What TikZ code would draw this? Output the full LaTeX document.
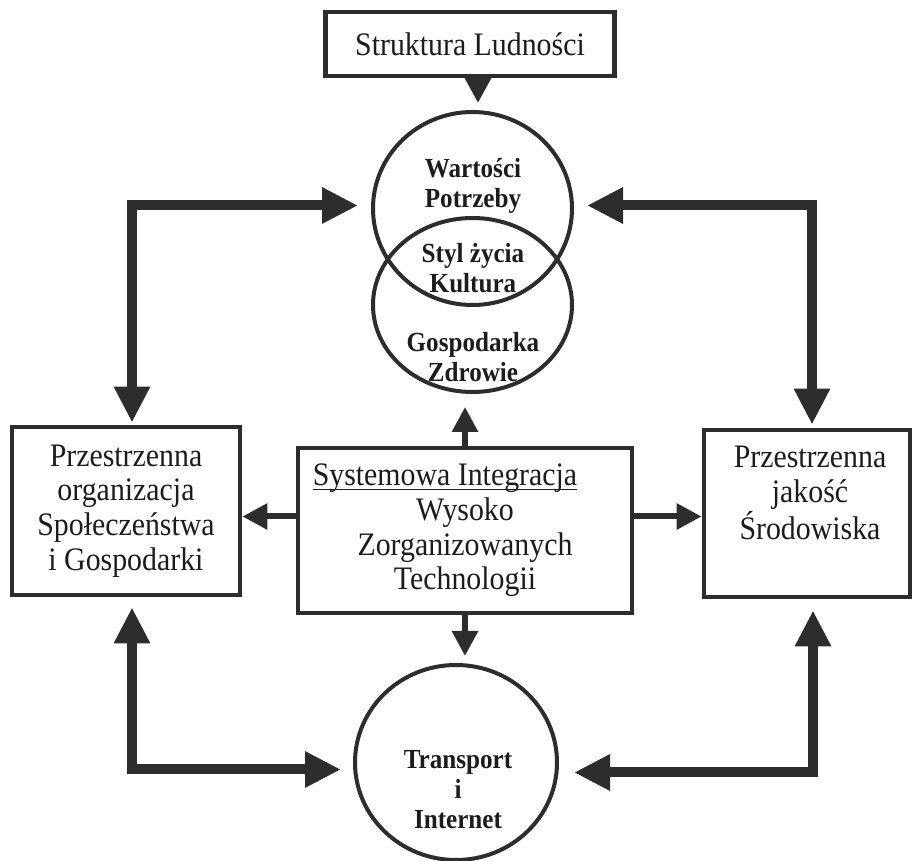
\documentclass[tikz,border=0pt]{standalone}
\usepackage{fontspec}
\setmainfont{Liberation Serif}[FakeStretch=0.91]
\usepackage{tikz}
\usetikzlibrary{shapes.geometric, arrows.meta, positioning, calc}
\definecolor{mydark}{RGB}{45,45,45}
\definecolor{mytext}{RGB}{28,28,28}
\newsavebox{\podkreslbox}
\newcommand{\podkresl}[1]{\sbox{\podkreslbox}{#1}\rlap{\rule[-2.2pt]{\wd\podkreslbox}{0.8pt}}\usebox{\podkreslbox}}
\tikzset{
  box/.style={rectangle, draw=mydark, line width=2.4pt, align=center, text=mytext, font=\fontsize{16.4}{17.3}\selectfont, inner sep=0pt},
  ring/.style={ellipse, draw=mydark, line width=2pt, inner sep=0pt},
  ringtext/.style={align=center, text=mytext, font=\fontsize{13.8}{15}\selectfont\bfseries},
  plaintext/.style={align=center, text=mytext, font=\fontsize{16.4}{17.3}\selectfont},
  bigarrow/.style={{Triangle[length=18pt, width=17pt]}-{Triangle[length=18pt, width=17pt]}, line width=5pt, color=mydark},
  midarrow/.style={-{Triangle[length=12.5pt, width=12.5pt]}, line width=3pt, color=mydark}
}

\begin{document}
\begin{tikzpicture}[x=0.5pt, y=-0.5pt]
  \useasboundingbox (0,0) rectangle (912,861);

  % Top box
  \node[box, minimum width=144.5pt, minimum height=32pt] (ludnosc) at (470,44) {Struktura Ludności};

  % Circles (top)
  \node[ring, minimum width=99.5pt, minimum height=96.5pt] (gora) at (472.5,208.5) {};
  \node[ring, minimum width=99.5pt, minimum height=87pt] (dol) at (472.5,305) {};
  \node[ringtext] (wartosci) at (473,186) {Wartości\\Potrzeby};
  \node[ringtext] (styl) at (473,268) {Styl życia\\Kultura};
  \node[ringtext] (gospodarka) at (473,357) {Gospodarka\\Zdrowie};

  % Middle row
  \node[box, minimum width=114pt, minimum height=84pt] (lewy) at (126,511) {Przestrzenna\\organizacja\\Społeczeństwa\\i Gospodarki};
  \node[box, minimum width=167pt, minimum height=82.5pt] (srodek) at (465,530.5) {\podkresl{Systemowa Integracja}\hspace*{20pt}\\Wysoko\\Zorganizowanych\\Technologii};
  \node[box, minimum width=103pt, minimum height=83.5pt] (prawy) at (807,513.5) {};
  \node[plaintext] (prawytxt) at (810,493) {Przestrzenna\\jakość\\Środowiska};

  % Circle (bottom)
  \node[ring, minimum width=101pt, minimum height=97.5pt] (transport) at (456,762.5) {};
  \node[ringtext] (transporttxt) at (458,790) {Transport\\i\\Internet};

  % Connectors
  \draw[midarrow, shorten >=3.5pt] ([xshift=4pt]ludnosc.south) -- ([xshift=4pt]ludnosc.south |- gora.north);
  \draw[bigarrow, shorten <=6.5pt, shorten >=1pt] ([yshift=1.5pt]gora.west) -| ([xshift=3pt]lewy.north);
  \draw[bigarrow, shorten <=6.5pt, shorten >=1.5pt] ([yshift=1.5pt]gora.east) -| ([xshift=2.5pt]prawy.north);
  \draw[bigarrow, shorten <=6pt, shorten >=5pt] ([yshift=-3.5pt]transport.west) -| ([xshift=3pt]lewy.south);
  \draw[bigarrow, shorten <=7.5pt, shorten >=5.5pt] ([yshift=-5pt]transport.east) -| ([xshift=3pt]prawy.south);
  \draw[midarrow] ([yshift=7pt]srodek.west) -- ([yshift=7pt]srodek.west -| lewy.east);
  \draw[midarrow] ([yshift=7pt]srodek.east) -- ([yshift=7pt]srodek.east -| prawy.west);
  \draw[midarrow, shorten >=6.5pt] (srodek.north) -- (srodek.north |- dol.south);
  \draw[midarrow, shorten >=3.5pt] (srodek.south) -- (srodek.south |- transport.north);
\end{tikzpicture}
\end{document}
